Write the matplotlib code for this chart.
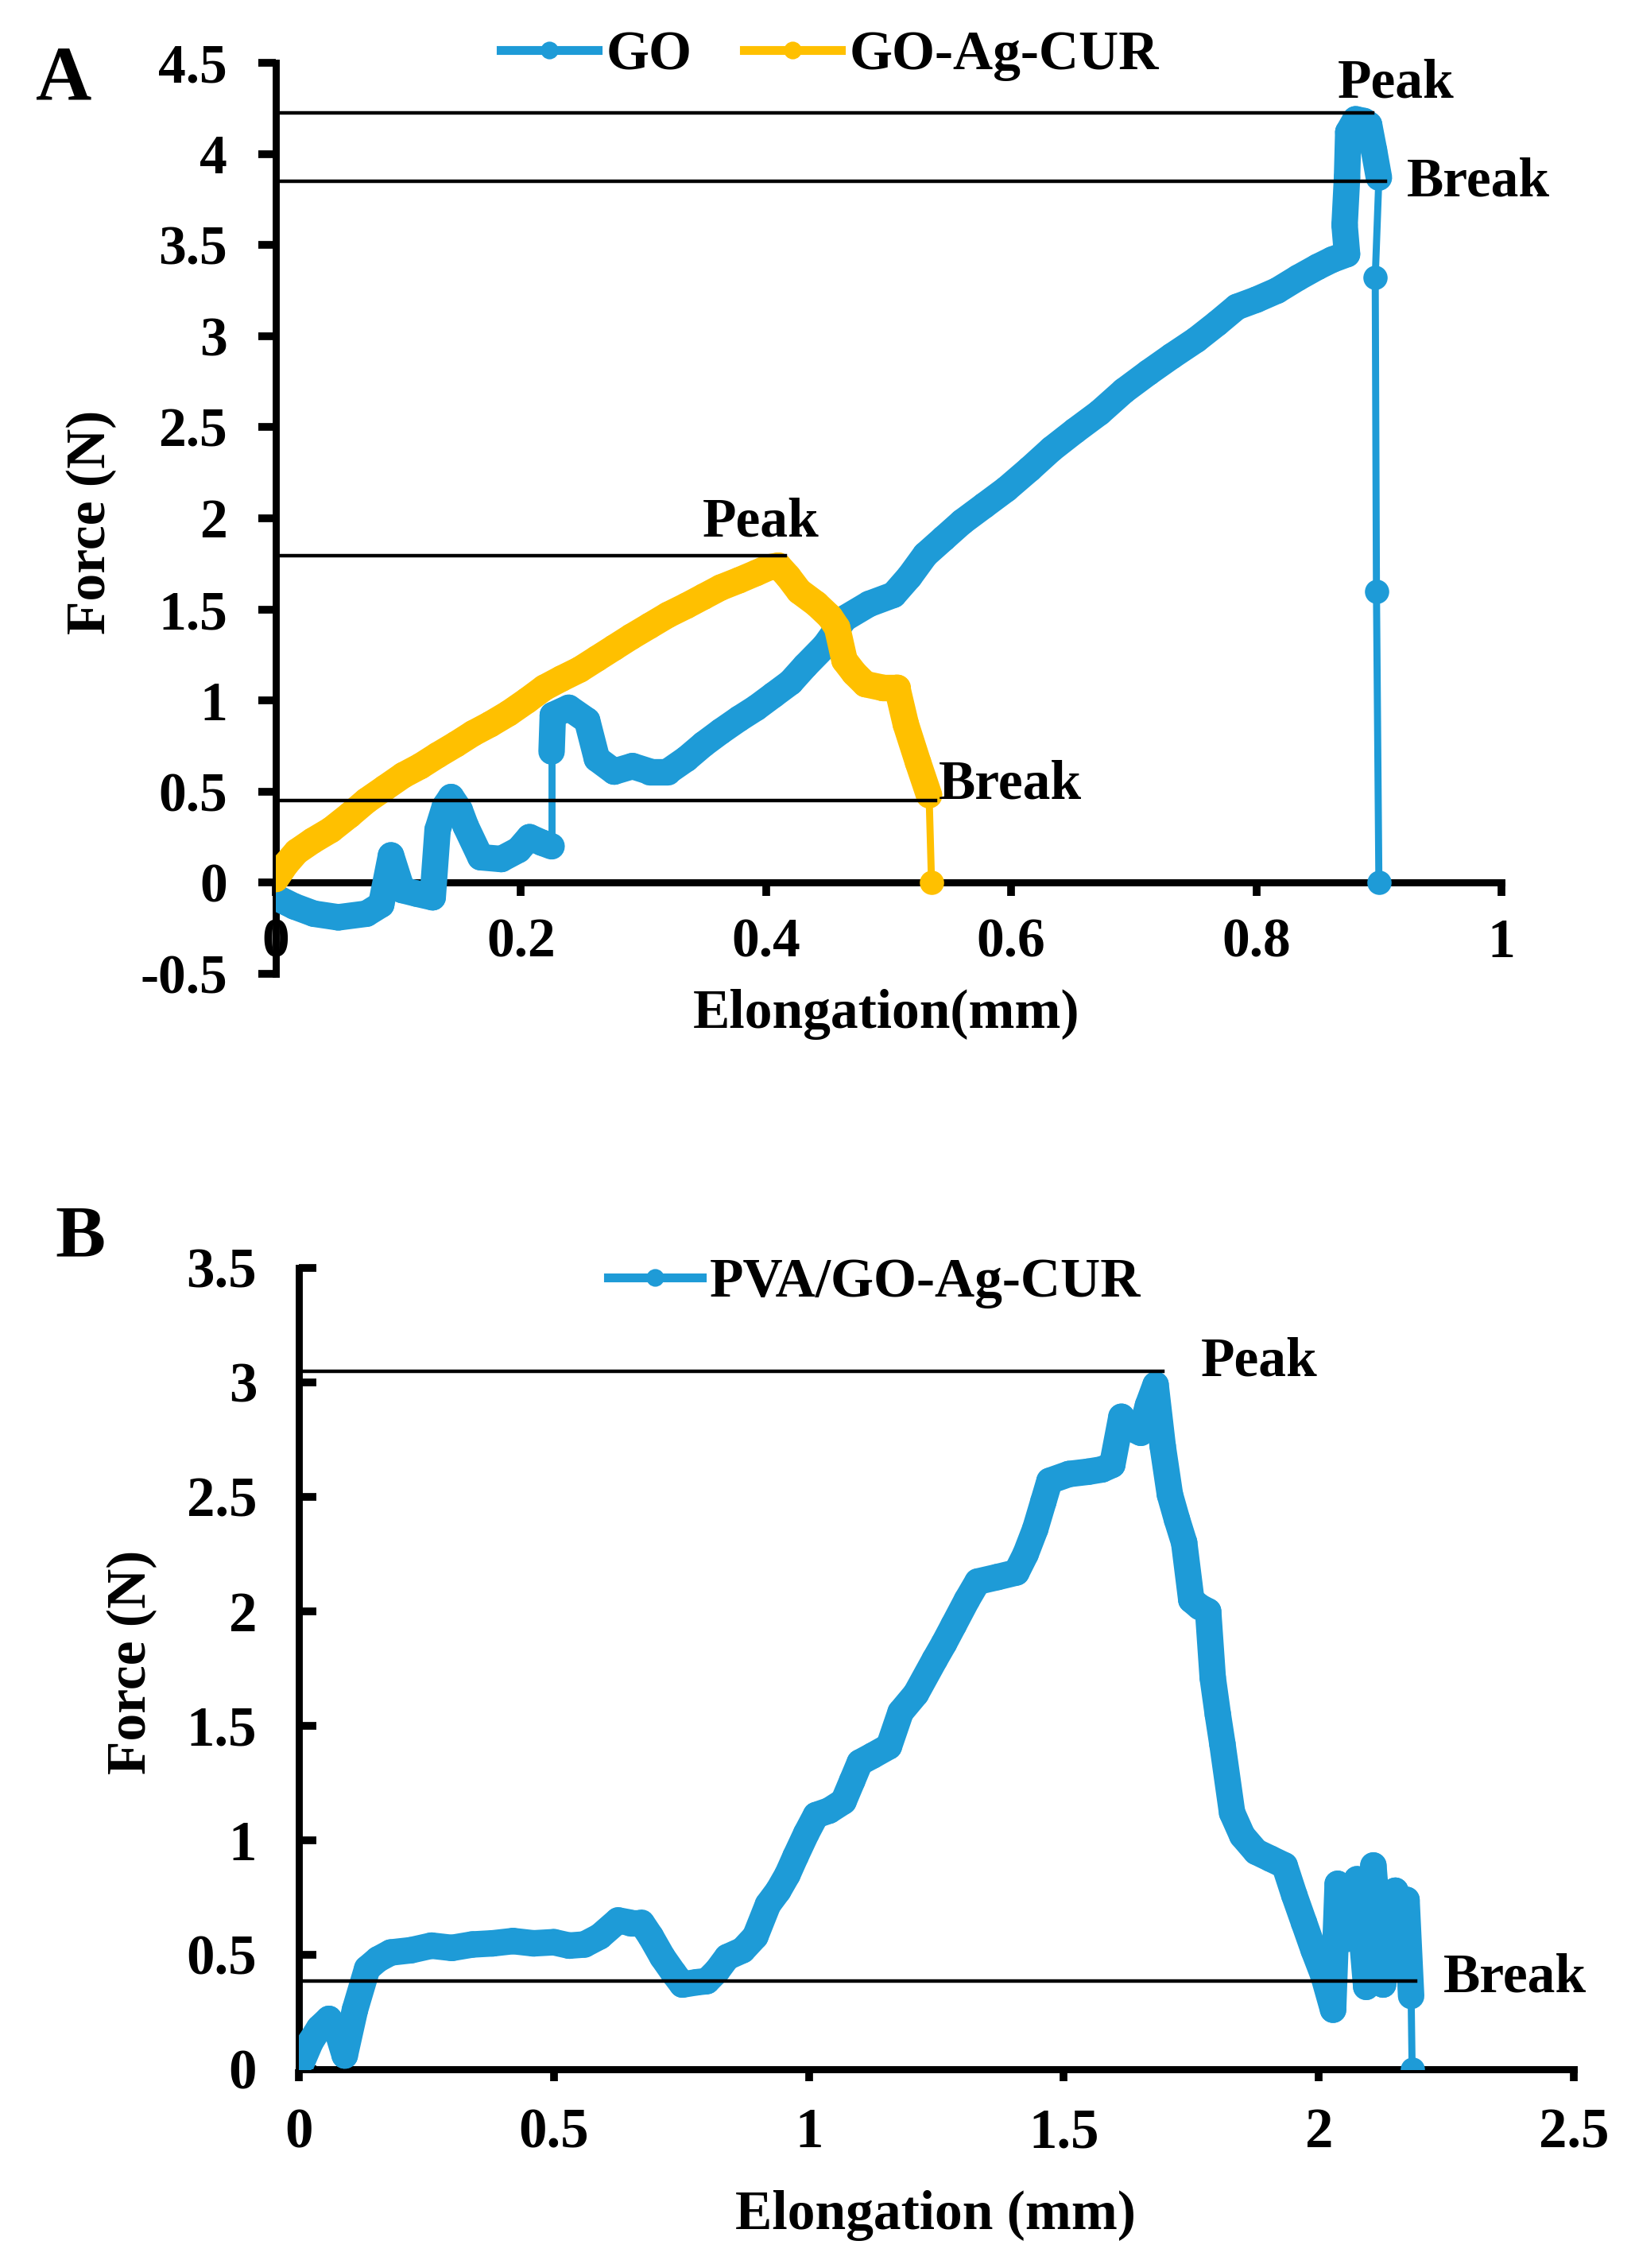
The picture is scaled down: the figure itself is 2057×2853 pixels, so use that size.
import numpy as np
import matplotlib
matplotlib.use("Agg")
import matplotlib.pyplot as plt
from matplotlib.collections import LineCollection
from matplotlib.lines import Line2D
from matplotlib.ticker import FuncFormatter

plt.rcParams['font.family'] = ['Liberation Serif', 'DejaVu Serif']
plt.rcParams['font.weight'] = 'bold'

BLUE = '#1e9bd7'
GOLD = '#ffc000'

# ---- panel A : GO ----
go_x = [0.000, 0.015, 0.031, 0.051, 0.074, 0.086, 0.094, 0.103, 0.115, 0.128,
        0.132, 0.138, 0.143, 0.150, 0.155, 0.167, 0.184, 0.198, 0.207, 0.217,
        0.225, 0.225, 0.226, 0.239, 0.254, 0.262, 0.276, 0.291, 0.305, 0.320,
        0.335, 0.349, 0.363, 0.378, 0.392, 0.406, 0.420, 0.432, 0.448, 0.464,
        0.484, 0.504, 0.517, 0.530, 0.545, 0.560, 0.578, 0.596, 0.615, 0.633,
        0.652, 0.672, 0.692, 0.712, 0.731, 0.751, 0.768, 0.784, 0.800, 0.817,
        0.834, 0.850, 0.862, 0.874, 0.872, 0.874, 0.875, 0.881, 0.888, 0.892,
        0.896, 0.900, 0.897, 0.898, 0.900]
go_y = [-0.08, -0.13, -0.17, -0.19, -0.17, -0.12, 0.15, -0.04, -0.06, -0.08,
        0.29, 0.42, 0.47, 0.40, 0.31, 0.14, 0.13, 0.18, 0.25, 0.22,
        0.20, 0.72, 0.92, 0.96, 0.89, 0.68, 0.61, 0.64, 0.61, 0.61,
        0.68, 0.76, 0.83, 0.90, 0.96, 1.03, 1.10, 1.19, 1.30, 1.45,
        1.53, 1.58, 1.68, 1.80, 1.89, 1.98, 2.07, 2.16, 2.27, 2.38,
        2.48, 2.58, 2.70, 2.80, 2.89, 2.98, 3.07, 3.16, 3.20, 3.25,
        3.32, 3.38, 3.42, 3.45, 3.61, 3.87, 4.12, 4.19, 4.18, 4.16,
        4.02, 3.87, 3.32, 1.60, 0.00]

# ---- panel A : GO-Ag-CUR ----
goag_x = [0.000, 0.008, 0.017, 0.030, 0.045, 0.060, 0.074, 0.089, 0.104, 0.118,
          0.132, 0.147, 0.161, 0.175, 0.190, 0.205, 0.219, 0.233, 0.248, 0.262,
          0.276, 0.290, 0.305, 0.320, 0.335, 0.349, 0.363, 0.378, 0.392, 0.402,
          0.410, 0.418, 0.427, 0.441, 0.452, 0.458, 0.464, 0.472, 0.481, 0.495,
          0.507, 0.514, 0.524, 0.533, 0.535]
goag_y = [0.02, 0.10, 0.17, 0.23, 0.29, 0.37, 0.45, 0.52, 0.59, 0.64,
          0.70, 0.76, 0.82, 0.87, 0.93, 1.00, 1.07, 1.12, 1.17, 1.23,
          1.29, 1.35, 1.41, 1.47, 1.52, 1.57, 1.62, 1.66, 1.70, 1.73,
          1.74, 1.68, 1.60, 1.53, 1.46, 1.40, 1.22, 1.15, 1.09, 1.07,
          1.07, 0.87, 0.66, 0.48, 0.00]

# peak / break marks in A
a_mark_y = [4.227, 3.85, 1.795, 0.45]
a_mark_xend = [0.895, 0.905, 0.416, 0.538]
a_mark_text = ['Peak', 'Break', 'Peak', 'Break']
a_text_x = [0.866, 0.923, 0.348, 0.541]
a_text_y = [4.31, 3.77, 1.90, 0.463]

# ---- panel B : PVA/GO-Ag-CUR ----
pva_x = [0.000, 0.023, 0.040, 0.059, 0.075, 0.090, 0.110, 0.134, 0.155, 0.180,
         0.220, 0.260, 0.300, 0.340, 0.380, 0.420, 0.460, 0.500, 0.530, 0.560,
         0.590, 0.626, 0.650, 0.672, 0.690, 0.713, 0.735, 0.752, 0.780, 0.800,
         0.820, 0.840, 0.870, 0.895, 0.920, 0.940, 0.958, 0.974, 0.995, 1.014,
         1.040, 1.068, 1.085, 1.100, 1.125, 1.157, 1.180, 1.210, 1.247, 1.265,
         1.284, 1.310, 1.331, 1.370, 1.407, 1.425, 1.444, 1.460, 1.472, 1.510,
         1.548, 1.575, 1.595, 1.613, 1.632, 1.651, 1.665, 1.680, 1.694, 1.708,
         1.722, 1.736, 1.750, 1.766, 1.783, 1.792, 1.802, 1.811, 1.830, 1.850,
         1.877, 1.905, 1.933, 1.952, 1.971, 1.990, 2.009, 2.028, 2.037, 2.056,
         2.075, 2.093, 2.107, 2.126, 2.150, 2.160, 2.172, 2.181, 2.183]
pva_y = [0.00, 0.12, 0.18, 0.22, 0.17, 0.06, 0.26, 0.44, 0.48, 0.51,
         0.52, 0.54, 0.53, 0.545, 0.55, 0.56, 0.55, 0.555, 0.54, 0.545,
         0.58, 0.65, 0.64, 0.64, 0.58, 0.49, 0.42, 0.37, 0.38, 0.385,
         0.43, 0.49, 0.52, 0.58, 0.72, 0.78, 0.85, 0.93, 1.03, 1.11,
         1.13, 1.17, 1.26, 1.34, 1.37, 1.41, 1.56, 1.64, 1.79, 1.86,
         1.94, 2.05, 2.13, 2.15, 2.17, 2.25, 2.36, 2.48, 2.57, 2.60,
         2.61, 2.62, 2.64, 2.85, 2.80, 2.78, 2.90, 2.99, 2.72, 2.51,
         2.40, 2.30, 2.05, 2.02, 2.00, 1.71, 1.55, 1.42, 1.12, 1.02,
         0.95, 0.92, 0.89, 0.76, 0.64, 0.52, 0.41, 0.26, 0.81, 0.57,
         0.83, 0.36, 0.89, 0.37, 0.78, 0.45, 0.74, 0.32, 0.00]

b_mark_y = [3.05, 0.385]
b_mark_xend = [1.694, 2.19]
b_mark_text = ['Peak', 'Break']
b_text_x = [1.769, 2.244]
b_text_y = [3.03, 0.34]

FS = 25
fmt = FuncFormatter(lambda v, p: '%g' % v)


def draw_curve(ax, x, y, color, xspan):
    # thick band for the dense readings, thin line where the curve jumps straight down/up
    x = np.asarray(x)
    y = np.asarray(y)
    pts = np.column_stack([x, y])
    segs = np.stack([pts[:-1], pts[1:]], axis=1)
    thin = (np.abs(np.diff(x)) <= 0.0035 * xspan) & (np.abs(np.diff(y)) > 0.3)
    widths = np.where(thin, 3.2, 12)
    lc = LineCollection(segs, colors=color, linewidths=widths,
                        capstyle='round', joinstyle='round', zorder=3)
    ax.add_collection(lc)
    ax.plot(x, y, 'o', color=color, ms=11, mec='none', zorder=3)


fig = plt.figure(figsize=(2057 / 200, 2853 / 200), dpi=200)

# ---------------- A ----------------
axA = fig.add_axes([347 / 2057, 1 - 1225 / 2853, 1542 / 2057, (1225 - 79) / 2853])
draw_curve(axA, go_x, go_y, BLUE, 1.0)
draw_curve(axA, goag_x, goag_y, GOLD, 1.0)
for yv, xe in zip(a_mark_y, a_mark_xend):
    axA.plot([0, xe], [yv, yv], color='black', lw=1.6, zorder=4)
for t, tx, ty in zip(a_mark_text, a_text_x, a_text_y):
    axA.text(tx, ty, t, fontsize=FS, ha='left', va='baseline')

axA.set_xlim(0, 1)
axA.set_ylim(-0.5, 4.5)
axA.set_xticks(np.arange(0, 1.01, 0.2))
axA.set_yticks(np.arange(-0.5, 4.51, 0.5))
axA.xaxis.set_major_formatter(fmt)
axA.yaxis.set_major_formatter(fmt)
axA.spines['bottom'].set_position(('data', 0))
axA.spines['top'].set_visible(False)
axA.spines['right'].set_visible(False)
for s in ('left', 'bottom'):
    axA.spines[s].set_linewidth(3.2)
axA.tick_params(axis='y', direction='out', length=8, width=3.5, labelsize=FS, pad=14)
axA.tick_params(axis='x', direction='out', length=6, width=3.5, labelsize=FS, pad=10)

fig.legend([Line2D([], [], color=BLUE, lw=4, marker='o', ms=7),
            Line2D([], [], color=GOLD, lw=4, marker='o', ms=7)],
           ['GO', 'GO-Ag-CUR'], loc='center', bbox_to_anchor=(1044 / 2057, 1 - 70 / 2853),
           ncol=2, frameon=False, fontsize=FS, handlelength=1.75, handletextpad=0.15,
           columnspacing=0.95, borderpad=0, borderaxespad=0)

fig.text(1115 / 2057, 1 - 1293 / 2853, 'Elongation(mm)', fontsize=FS, ha='center', va='baseline')
fig.text(115 / 2057, 1 - 657 / 2853, 'Force (N)', fontsize=FS, ha='center', va='center', rotation=90)
fig.text(80 / 2057, 1 - 101 / 2853, 'A', fontsize=35, ha='center', va='center')

# ---------------- B ----------------
axB = fig.add_axes([376 / 2057, 1 - 2603 / 2853, 1604 / 2057, (2603 - 1595) / 2853])
draw_curve(axB, pva_x, pva_y, BLUE, 2.5)
for yv, xe in zip(b_mark_y, b_mark_xend):
    axB.plot([0, xe], [yv, yv], color='black', lw=1.6, zorder=4)
for t, tx, ty in zip(b_mark_text, b_text_x, b_text_y):
    axB.text(tx, ty, t, fontsize=FS, ha='left', va='baseline')

axB.set_xlim(0, 2.5)
axB.set_ylim(0, 3.5)
axB.set_xticks(np.arange(0, 2.51, 0.5))
axB.set_yticks(np.arange(0, 3.51, 0.5))
axB.xaxis.set_major_formatter(fmt)
axB.yaxis.set_major_formatter(fmt)
axB.spines['top'].set_visible(False)
axB.spines['right'].set_visible(False)
for s in ('left', 'bottom'):
    axB.spines[s].set_linewidth(3.2)
axB.tick_params(axis='y', direction='in', length=8, width=3.5, labelsize=25.5, pad=19)
axB.tick_params(axis='x', direction='out', length=5.4, width=3.5, labelsize=25.5, pad=12)

fig.legend([Line2D([], [], color=BLUE, lw=4, marker='o', ms=7)],
           ['PVA/GO-Ag-CUR'], loc='center', bbox_to_anchor=(1100 / 2057, 1 - 1614 / 2853),
           frameon=False, fontsize=FS, handlelength=1.7, handletextpad=0.15,
           borderpad=0, borderaxespad=0)

fig.text(1177 / 2057, 1 - 2804 / 2853, 'Elongation (mm)', fontsize=FS, ha='center', va='baseline')
fig.text(166 / 2057, 1 - 2091 / 2853, 'Force (N)', fontsize=FS, ha='center', va='center', rotation=90)
fig.text(101 / 2057, 1 - 1558 / 2853, 'B', fontsize=34, ha='center', va='center')

fig.savefig('out.png', dpi=200, facecolor='white')
